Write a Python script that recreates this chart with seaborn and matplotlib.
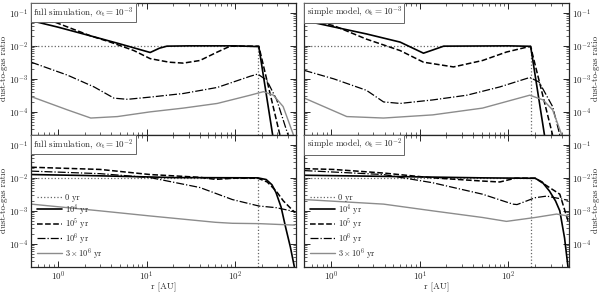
import matplotlib
matplotlib.use("Agg")
import matplotlib.pyplot as plt
import seaborn as sns
from matplotlib.offsetbox import AnchoredText

sns.set_style('ticks')
plt.rcParams['font.family'] = 'serif'
plt.rcParams['font.serif'] = ['cmr10', 'DejaVu Serif']
plt.rcParams['mathtext.fontset'] = 'cm'
plt.rcParams['axes.formatter.use_mathtext'] = True
plt.rcParams['axes.unicode_minus'] = False

# =============================================================================
# Data (r in AU, dust-to-gas ratio)
# =============================================================================

# initial condition, same in every panel
r_0yr = [0.5, 180, 180]
d_0yr = [0.01, 0.01, 1e-7]

# full simulation, alpha_t = 1e-3
full3_r_1e4 = [0.5, 1, 2.35, 5, 11, 14, 17, 30, 100, 185, 265]
full3_d_1e4 = [0.058, 0.037, 0.02, 0.0115, 0.0063, 0.0085, 0.0098, 0.01, 0.01, 0.0095, 2e-5]
full3_r_1e5 = [0.5, 0.95, 2.35, 3.9, 7.2, 11, 18, 26, 40, 63, 88, 185, 320]
full3_d_1e5 = [0.058, 0.051, 0.02, 0.013, 0.0072, 0.0041, 0.0032, 0.003, 0.0036, 0.0065, 0.0098, 0.0098, 2e-5]
full3_r_1e6 = [0.5, 1.28, 2.56, 4.3, 6.1, 11, 26, 63, 148, 180, 228, 295, 395]
full3_d_1e6 = [0.0032, 0.0013, 5.7e-4, 2.6e-4, 2.4e-4, 2.8e-4, 3.6e-4, 5.5e-4, 1.2e-3, 1.4e-3, 9e-4, 2.3e-4, 2e-5]
full3_r_3e6 = [0.5, 1.28, 2.35, 4.7, 11, 26, 63, 148, 209, 270, 348, 455]
full3_d_3e6 = [2.9e-4, 1.15e-4, 6.5e-5, 7.2e-5, 1.0e-4, 1.3e-4, 1.8e-4, 3.2e-4, 4.1e-4, 3.2e-4, 1.45e-4, 2e-5]

# simple model, alpha_t = 1e-3
simple3_r_1e4 = [0.5, 2.5, 6, 11, 14, 18.6, 100, 178, 255]
simple3_d_1e4 = [0.058, 0.023, 0.013, 0.006, 0.0075, 0.0098, 0.01, 0.0097, 2e-5]
simple3_r_1e5 = [0.5, 1.07, 2.5, 6, 11, 24, 51, 95, 160, 178, 315]
simple3_d_1e5 = [0.065, 0.041, 0.016, 0.0072, 0.0032, 0.0023, 0.0036, 0.0065, 0.0091, 0.0095, 2e-5]
simple3_r_1e6 = [0.5, 1.07, 2.5, 3.9, 6, 14, 34, 80, 174, 222, 315, 380]
simple3_d_1e6 = [1.8e-3, 1.0e-3, 4.5e-4, 2.0e-4, 1.8e-4, 2.3e-4, 3.2e-4, 5.7e-4, 1.1e-3, 8e-4, 1.45e-4, 2e-5]
simple3_r_3e6 = [0.5, 1.5, 3.9, 14, 51, 174, 246, 315, 400]
simple3_d_3e6 = [2.6e-4, 7.2e-5, 6.5e-5, 8.1e-5, 1.3e-4, 3.2e-4, 2.3e-4, 1.15e-4, 2e-5]

# full simulation, alpha_t = 1e-2
full2_r_1e4 = [0.5, 2, 10, 20, 180, 224, 260, 289, 330, 371, 420, 466]
full2_d_1e4 = [0.0126, 0.0118, 0.0107, 0.0102, 0.01, 0.0089, 0.0062, 0.0036, 1.3e-3, 3.2e-4, 8e-5, 2e-5]
full2_r_1e5 = [0.5, 3, 11, 40, 60, 100, 180, 230, 290, 350, 470]
full2_d_1e5 = [0.021, 0.018, 0.0126, 0.0104, 0.009, 0.0098, 0.0098, 0.0075, 0.004, 0.002, 9e-4]
full2_r_1e6 = [0.5, 3, 11, 40, 93, 186, 290, 470]
full2_d_1e6 = [0.016, 0.0134, 0.0102, 0.0051, 0.0022, 1.4e-3, 1.25e-3, 9.5e-4]
full2_r_3e6 = [0.5, 3, 11, 40, 60, 93, 186, 470]
full2_d_3e6 = [1.6e-3, 1.0e-3, 7e-4, 5e-4, 4.5e-4, 4.2e-4, 4.1e-4, 3.7e-4]

# simple model, alpha_t = 1e-2
simple2_r_1e4 = [0.5, 5, 50, 200, 240, 290, 340, 380, 430, 470]
simple2_d_1e4 = [0.012, 0.011, 0.01, 0.0097, 0.0075, 0.004, 0.002, 1e-3, 1.5e-4, 2e-5]
simple2_r_1e5 = [0.5, 1.06, 3.9, 14, 51, 80, 120, 200, 275, 380, 470]
simple2_d_1e5 = [0.019, 0.018, 0.014, 0.010, 0.008, 0.0075, 0.0098, 0.0098, 0.0056, 0.0032, 5e-4]
simple2_r_1e6 = [0.5, 3.9, 14, 51, 112, 125, 200, 270, 470]
simple2_d_1e6 = [0.0166, 0.0126, 0.0071, 0.0032, 1.6e-3, 1.55e-3, 2.5e-3, 2.8e-3, 2.1e-3]
simple2_r_3e6 = [0.5, 3.9, 14, 51, 95, 200, 350, 470]
simple2_d_3e6 = [2.2e-3, 1.6e-3, 1.0e-3, 6.3e-4, 4.8e-4, 6.3e-4, 8e-4, 7e-4]

labels = ['0 yr', '$10^4$ yr', '$10^5$ yr', '$10^6$ yr', r'$3\times10^6$ yr']
titles = [r'full simulation, $\alpha_\mathrm{t}=10^{-3}$', r'simple model, $\alpha_\mathrm{t}=10^{-3}$',
          r'full simulation, $\alpha_\mathrm{t}=10^{-2}$', r'simple model, $\alpha_\mathrm{t}=10^{-2}$']

# line style per epoch
styles = [(':', '0.4', 0.9), ('-', 'black', 1.2), ('--', 'black', 1.1),
          ('-.', 'black', 0.9), ('-', '0.55', 1.0)]

panels = [
    [(r_0yr, d_0yr), (full3_r_1e4, full3_d_1e4), (full3_r_1e5, full3_d_1e5),
     (full3_r_1e6, full3_d_1e6), (full3_r_3e6, full3_d_3e6)],
    [(r_0yr, d_0yr), (simple3_r_1e4, simple3_d_1e4), (simple3_r_1e5, simple3_d_1e5),
     (simple3_r_1e6, simple3_d_1e6), (simple3_r_3e6, simple3_d_3e6)],
    [(r_0yr, d_0yr), (full2_r_1e4, full2_d_1e4), (full2_r_1e5, full2_d_1e5),
     (full2_r_1e6, full2_d_1e6), (full2_r_3e6, full2_d_3e6)],
    [(r_0yr, d_0yr), (simple2_r_1e4, simple2_d_1e4), (simple2_r_1e5, simple2_d_1e5),
     (simple2_r_1e6, simple2_d_1e6), (simple2_r_3e6, simple2_d_3e6)],
]

# =============================================================================
# Plot
# =============================================================================

fig, axes = plt.subplots(2, 2, figsize=(6, 2.93), dpi=100)
fig.subplots_adjust(left=0.052, right=0.948, top=0.99, bottom=0.089, wspace=0.034, hspace=0)

for i, ax in enumerate(axes.flat):
    for (r, d), lab, (ls, col, lw) in zip(panels[i], labels, styles):
        sns.lineplot(x=r, y=d, ax=ax, color=col, linestyle=ls, linewidth=lw,
                     estimator=None, sort=False, label=lab if i >= 2 else None)
    ax.set_xscale('log')
    ax.set_yscale('log')
    ax.set_xlim(0.5, 480)
    ax.set_ylim(2e-5, 0.2)
    ax.set_yticks([1e-4, 1e-3, 1e-2, 1e-1])
    ax.tick_params(which='both', direction='in', top=True, right=True, labelsize=6.5, pad=2)
    ax.tick_params(which='major', length=4, width=0.7)
    ax.tick_params(which='minor', length=2, width=0.5)
    for sp in ax.spines.values():
        sp.set_linewidth(0.9)
    at = AnchoredText(titles[i], loc='upper left', frameon=True, borderpad=0, pad=0.25,
                      prop=dict(size=6.5))
    at.patch.set_edgecolor('0.4')
    at.patch.set_linewidth(0.7)
    ax.add_artist(at)
    if i % 2 == 1:
        ax.tick_params(labelleft=False, labelright=True)
        ax.yaxis.set_label_position('right')
    ax.set_ylabel('dust-to-gas ratio', fontsize=6.5, labelpad=0.5)
    if i < 2:
        ax.tick_params(labelbottom=False)
        ax.set_xlabel('')
    else:
        ax.set_xlabel('r [AU]', fontsize=6.5, labelpad=0)
        ax.legend(loc='lower left', frameon=False, fontsize=6, handlelength=3.0,
                  labelspacing=0.0, borderaxespad=0.3, handletextpad=0.3)

fig.savefig('out.png', dpi=100)
